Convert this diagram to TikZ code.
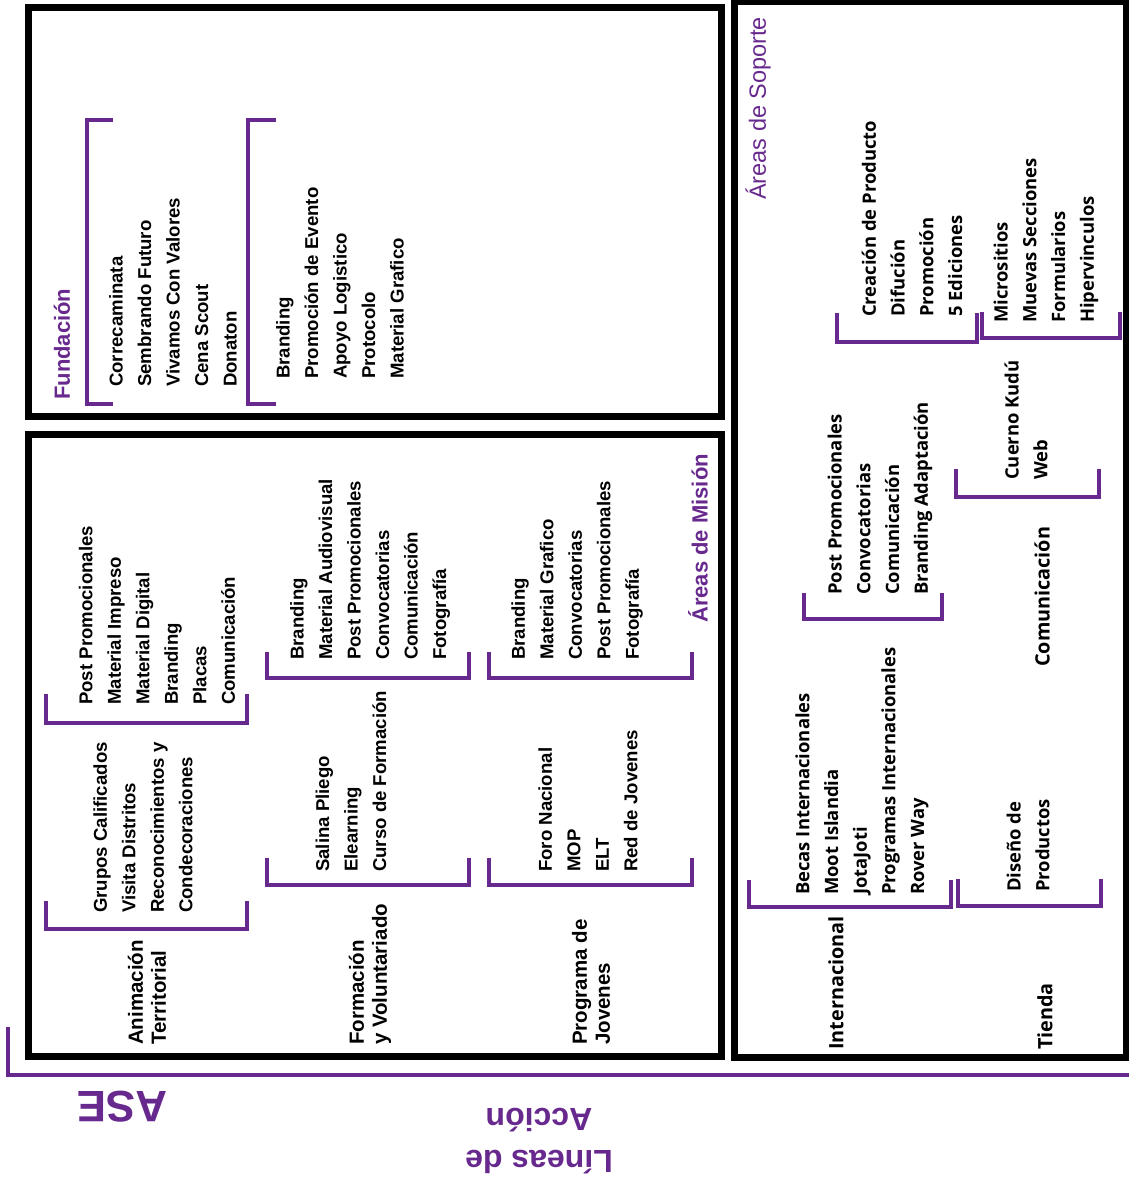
\documentclass[tikz,border=0pt]{standalone}
\usepackage{fontspec}
\setmainfont{Liberation Sans}
\newfontfamily\soportefont{Open Sans}
\usepackage{xcolor}
\usetikzlibrary{positioning}
\definecolor{asepurple}{RGB}{104,41,142}

\begin{document}
\begin{tikzpicture}[
    x=1pt, y=-1pt,
    marco/.style={draw=black, line width=7pt},
    llave/.style={draw=asepurple, line width=4.5pt},
    lista/.style={rotate=90, anchor=west, align=left, inner sep=0pt,
                  font=\fontsize{18.6}{28.5}\selectfont\bfseries},
    linea/.style={lista, font=\fontsize{20.5}{23}\selectfont\bfseries},
    titulo/.style={rotate=90, anchor=west, inner sep=0pt, text=asepurple,
                   font=\fontsize{22}{26}\selectfont\bfseries},
    slista/.style={lista, font=\soportefont\fontsize{18.4}{28.7}\selectfont\bfseries},
    slinea/.style={lista, font=\soportefont\fontsize{19.8}{23}\selectfont\bfseries},
    girado/.style={rotate=180, align=center, inner sep=0pt, text=asepurple}
]
\useasboundingbox (0,0) rectangle (1129,1180);

% Frames
\draw[marco] (28,8) rectangle (721,416);
\draw[marco] (28,434) rectangle (721,1056);
\draw[marco] (734,1.5) rectangle (1126,1057);

% Fundacion
\node[titulo] (fund) at (62,400) {Fundación};
\node[lista] (fundeventos) at (173,387) {Correcaminata\\Sembrando Futuro\\Vivamos Con Valores\\Cena Scout\\Donaton};
\node[lista] (fundservicios) at (340,379) {Branding\\Promoción de Evento\\Apoyo Logistico\\Protocolo\\Material Grafico};
\draw[llave] (113,120) -- (87,120) -- (87,404) -- (113,404);
\draw[llave] (276,120) -- (248,120) -- (248,404) -- (276,404);

% Areas de Mision: Animacion Territorial
\node[linea] (anim) at (147,1045) {Animación\\Territorial};
\node[lista] (animlineas) at (143,913) {Grupos Calificados\\Visita Distritos\\Reconocimientos y\\Condecoraciones};
\node[lista] (animcom) at (157,705) {Post Promocionales\\Material Impreso\\Material Digital\\Branding\\Placas\\Comunicación};
\draw[llave] (46,901) -- (46,929) -- (247,929) -- (247,901);
\draw[llave] (46,694) -- (46,723) -- (247,723) -- (247,694);

% Areas de Mision: Formacion y Voluntariado
\node[linea] (form) at (370,1045) {Formación\\y Voluntariado};
\node[lista] (formlineas) at (351,872) {Salina Pliego\\Elearning\\Curso de Formación};
\node[lista] (formcom) at (370,660) {Branding\\Material Audiovisual\\Post Promocionales\\Convocatorias\\Comunicación\\Fotografía};
\draw[llave] (267,858) -- (267,885) -- (469,885) -- (469,858);
\draw[llave] (267,652) -- (267,678) -- (469,678) -- (469,652);

% Areas de Mision: Programa de Jovenes
\node[linea] (prog) at (591,1045) {Programa de\\Jovenes};
\node[lista] (proglineas) at (588,872) {Foro Nacional\\MOP\\ELT\\Red de Jovenes};
\node[lista] (progcom) at (577,660) {Branding\\Material Grafico\\Convocatorias\\Post Promocionales\\Fotografía};
\draw[llave] (489,858) -- (489,885) -- (692,885) -- (692,858);
\draw[llave] (489,652) -- (489,678) -- (692,678) -- (692,652);
\node[titulo] (mision) at (698,623) {Áreas de Misión};

% Areas de Soporte
\node[titulo, font=\fontsize{23.5}{26}\selectfont] (soporte) at (758,200) {Áreas de Soporte};
\node[slista] (kudu) at (912,317) {Creación de Producto\\Difución\\Promoción\\5 Ediciones};
\node[slista] (web) at (1046,323) {Micrositios\\Muevas Secciones\\Formularios\\Hipervinculos};
\draw[llave] (837,313) -- (837,342) -- (977,342) -- (977,313);
\draw[llave] (982,312) -- (982,338) -- (1120,338) -- (1120,312);
\node[slista] (intercom) at (880,595) {Post Promocionales\\Convocatorias\\Comunicación\\Branding Adaptación};
\draw[llave] (804,593) -- (804,619) -- (942,619) -- (942,593);
\node[slista] (comlineas) at (1026,480) {Cuerno Kudú\\Web};
\draw[llave] (956,469) -- (956,497) -- (1099,497) -- (1099,469);
\node[slinea] (com) at (1042,667) {Comunicación};
\node[slista] (interlineas) at (862,895) {Becas Internacionales\\Moot Islandia\\JotaJoti\\Programas Internacionales\\Rover Way};
\draw[llave] (749,880) -- (749,907) -- (951,907) -- (951,880);
\node[slista] (tiendalineas) at (1028,892) {Diseño de\\Productos};
\draw[llave] (958,879) -- (958,906) -- (1101,906) -- (1101,879);
\node[slinea] (inter) at (836,1050) {Internacional};
\node[slinea] (tienda) at (1045,1050) {Tienda};

% ASE bracket
\draw[llave, line width=4pt] (8,1027) -- (8,1075) -- (1129,1075);
\node[girado, font=\fontsize{44}{48}\selectfont\bfseries] (ase) at (122,1107) {ASE};
\node[girado, font=\fontsize{32}{42}\selectfont\bfseries] (lineas) at (539,1141) {Líneas de\\Acción};

\end{tikzpicture}
\end{document}
